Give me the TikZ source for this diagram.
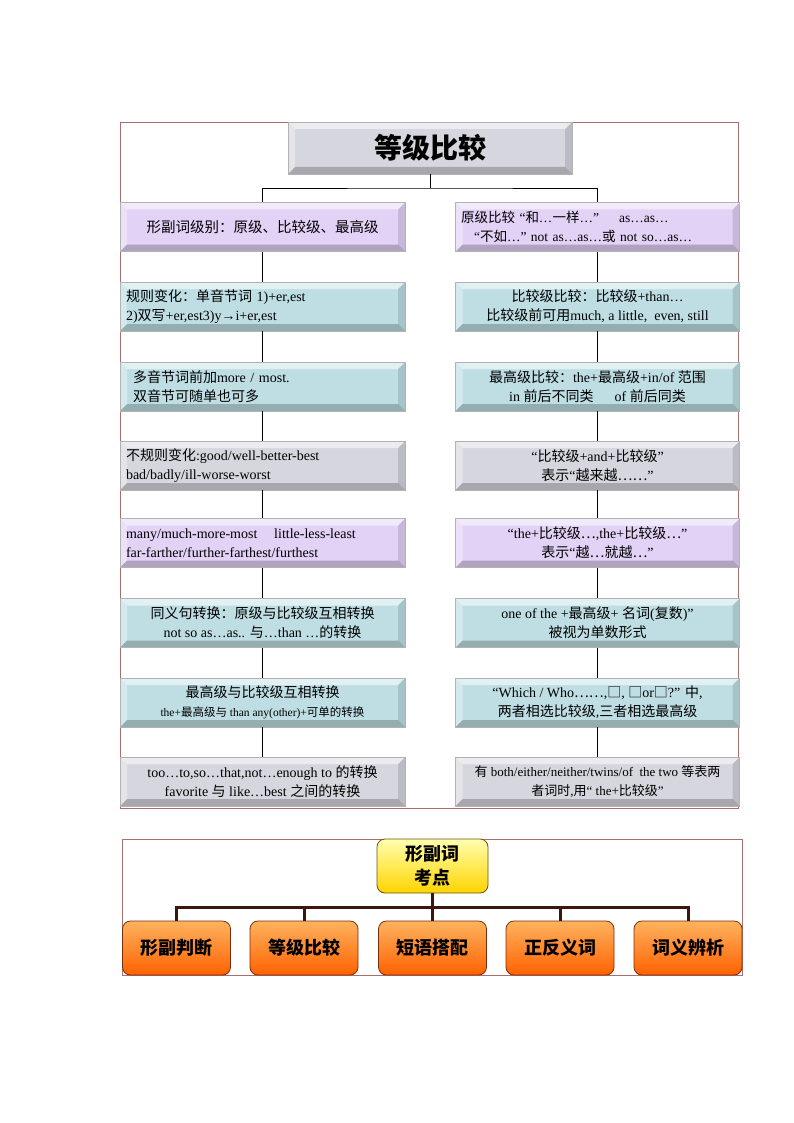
\documentclass[tikz,border=0pt]{standalone}
\usepackage{fontspec}
\setmainfont{Liberation Serif}
\newfontfamily\cjkf{Noto Sans CJK SC}
\XeTeXinterchartokenstate=1
\newXeTeXintercharclass\cjkcls
\makeatletter
\def\setcls#1#2#3{\count@=#1\relax\loop\XeTeXcharclass\count@=#3\relax\ifnum\count@<#2\advance\count@\@ne\repeat}
\makeatother
\setcls{"0021}{"00FF}{0}
\setcls{"2000}{"22FF}{0}
\setcls{"3000}{"303F}{\cjkcls}
\setcls{"4E00}{"9FFF}{\cjkcls}
\setcls{"FF00}{"FFEF}{\cjkcls}
\XeTeXcharclass"22EF=\cjkcls
\XeTeXcharclass"25A1=\cjkcls
\XeTeXinterchartoks 0 \cjkcls = {\cjkf}
\XeTeXinterchartoks 4095 \cjkcls = {\cjkf}
\XeTeXinterchartoks \cjkcls 0 = {\rmfamily}
\XeTeXinterchartoks \cjkcls 4095 = {\rmfamily}
\definecolor{purp}{RGB}{226,210,246}
\definecolor{blu}{RGB}{190,222,228}
\definecolor{gry}{RGB}{214,214,222}
\definecolor{framec}{RGB}{170,110,110}
\definecolor{conn}{RGB}{60,22,15}
\definecolor{yTop}{RGB}{255,255,175}
\definecolor{yBot}{RGB}{255,212,0}
\definecolor{yDraw}{RGB}{110,80,10}
\definecolor{oTop}{RGB}{255,178,95}
\definecolor{oBot}{RGB}{255,98,0}
\definecolor{oDraw}{RGB}{120,45,15}
\begin{document}
\begin{tikzpicture}[x=1pt,y=-1pt,
  bev/.style={fill=#1, draw=black!30, line width=0.4pt, inner sep=0pt,
    minimum height=49pt, font=\fontsize{14}{19}\selectfont,
    path picture={
      \path (path picture bounding box.north west) coordinate (bnw)
            (path picture bounding box.north east) coordinate (bne)
            (path picture bounding box.south west) coordinate (bsw)
            (path picture bounding box.south east) coordinate (bse);
      \fill[white,opacity=.55] (bnw) -- (bne) -- ([shift={(-7pt,-7pt)}]bne) -- ([shift={(7pt,-7pt)}]bnw) -- cycle;
      \fill[white,opacity=.35] (bnw) -- ([shift={(7pt,-7pt)}]bnw) -- ([shift={(7pt,7pt)}]bsw) -- (bsw) -- cycle;
      \fill[black,opacity=.22] (bsw) -- ([shift={(7pt,7pt)}]bsw) -- ([shift={(-7pt,7pt)}]bse) -- (bse) -- cycle;
      \fill[black,opacity=.12] (bse) -- ([shift={(-7pt,7pt)}]bse) -- ([shift={(-7pt,-7pt)}]bne) -- (bne) -- cycle;
    }},
  lbox/.style={bev=#1, minimum width=285pt},
  rbox/.style={bev=#1, minimum width=284pt},
  lt/.style={text width=273pt, align=left},
  ct/.style={align=center},
  tconn/.style={draw=black, line width=0.8pt},
  bconn/.style={draw=conn, line width=3pt},
  frm/.style={draw=framec, line width=0.7pt},
  ybox/.style={draw=yDraw, line width=0.8pt, top color=yTop, bottom color=yBot, rounded corners=8pt,
    minimum width=111pt, minimum height=54pt, inner sep=0pt, align=center,
    font=\bfseries\fontsize{18}{24}\selectfont},
  obox/.style={draw=oDraw, line width=0.8pt, top color=oTop, bottom color=oBot, rounded corners=8pt,
    minimum width=108pt, minimum height=54pt, inner sep=0pt,
    font=\bfseries\fontsize{18}{22}\selectfont}
]
\useasboundingbox (0,0) rectangle (794,1123);
% frames
\draw[frm] (120,122) rectangle (738,808);
\draw[frm] (122,839) rectangle (742,975);

% title
\node[bev=gry, minimum width=284pt, minimum height=52pt, font=\bfseries\fontsize{28}{30}\selectfont] (T) at (430,148) {等级比较};

% left column
\node[lbox=purp, ct, font=\fontsize{14.5}{19}\selectfont] (L1) at (262.5,227) {形副词级别：原级、比较级、最高级};
\node[lbox=blu, lt] (L2) at (262.5,306.5) {规则变化：单音节词 1)+er,est\\2)双写+er,est3)y→i+er,est};
\node[lbox=blu, lt] (L3) at (262.5,386.5) {\hspace*{7pt}多音节词前加more / most.\\\hspace*{7pt}双音节可随单也可多};
\node[lbox=gry, lt] (L4) at (262.5,465.5) {不规则变化:good/well-better-best\\bad/badly/ill-worse-worst};
\node[lbox=purp, lt] (L5) at (262.5,543) {many/much-more-most\hspace{1.2em}little-less-least\\far-farther/further-farthest/furthest};
\node[lbox=blu, ct] (L6) at (262.5,623) {同义句转换：原级与比较级互相转换\\not so as…as.. 与…than …的转换};
\node[lbox=blu, ct] (L7) at (262.5,702.5) {最高级与比较级互相转换\\{\fontsize{11.5}{19}\selectfont the+最高级与 than any(other)+可单的转换}};
\node[lbox=gry, ct] (L8) at (262.5,781.5) {too…to,so…that,not…enough to 的转换\\favorite 与 like…best 之间的转换};

% right column
\node[rbox=purp, lt, font=\fontsize{13.5}{19}\selectfont] (R1) at (597.5,227) {原级比较 “和…一样…”\hspace{1.5em}as…as…\\\hspace*{13pt}“不如…” not as…as…或 not so…as…};
\node[rbox=blu, ct] (R2) at (597.5,306.5) {比较级比较：比较级+than…\\比较级前可用much, a little,\ \ even, still};
\node[rbox=blu, ct] (R3) at (597.5,386.5) {最高级比较：the+最高级+in/of 范围\\in 前后不同类\hspace{1.5em}of 前后同类};
\node[rbox=gry, ct] (R4) at (597.5,465.5) {“比较级+and+比较级”\\表示“越来越⋯⋯”};
\node[rbox=purp, ct] (R5) at (597.5,543) {“the+比较级⋯,the+比较级⋯”\\表示“越⋯就越⋯”};
\node[rbox=blu, ct] (R6) at (597.5,623) {one of the +最高级+ 名词(复数)”\\被视为单数形式};
\node[rbox=blu, ct] (R7) at (597.5,702.5) {“Which / Who⋯⋯,□, □or□?” 中,\\两者相选比较级,三者相选最高级};
\node[rbox=gry, ct, font=\fontsize{13}{19}\selectfont] (R8) at (597.5,781.5) {有 both/either/neither/twins/of\ \ the two 等表两\\者词时,用“ the+比较级”};

% connectors top
\coordinate (tj) at (430,188);
\draw[tconn] (T.south) -- (tj);
\draw[tconn] (L1.north) |- (tj) -| (R1.north);
\foreach \i/\j in {1/2,2/3,3/4,4/5,5/6,6/7,7/8}{
  \draw[tconn] (L\i.south) -- (L\j.north);
  \draw[tconn] (R\i.south) -- (R\j.north);
}

% bottom chart
\node[ybox] (Y) at (432.5,866) {形副词\\考点};
\node[obox] (O1) at (176.5,948) {形副判断};
\node[obox] (O2) at (304,948) {等级比较};
\node[obox] (O3) at (432.5,948) {短语搭配};
\node[obox] (O4) at (560,948) {正反义词};
\node[obox] (O5) at (688,948) {词义辨析};
\coordinate (bj) at (432.5,907);
\draw[bconn] (Y.south) -- (bj);
\draw[bconn] (O1.north) -- (O1.north |- bj) -- (O5.north |- bj) -- (O5.north);
\draw[bconn] (O2.north) -- (O2.north |- bj);
\draw[bconn] (O3.north) -- (O3.north |- bj);
\draw[bconn] (O4.north) -- (O4.north |- bj);
\end{tikzpicture}
\end{document}
